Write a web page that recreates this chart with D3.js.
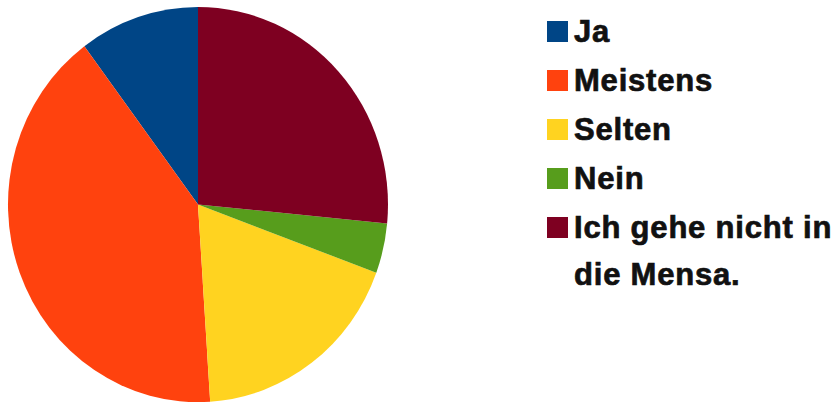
<!DOCTYPE html>
<html>
<head>
<meta charset="utf-8">
<script src="https://cdn.jsdelivr.net/npm/d3@7.9.0/dist/d3.min.js"></script>
<style>
  body { margin: 0; background: #fff; }
  svg { display: block; }
  .legend text { font-family: "Liberation Sans", Arial, sans-serif; font-weight: bold; font-size: 31px; letter-spacing: 0.8px; fill: #111; stroke: #111; stroke-width: 0.7px; }
</style>
</head>
<body>
<svg width="840" height="405"></svg>
<script>
const labels = ['Ja', 'Meistens', 'Selten', 'Nein', 'Ich gehe nicht in die Mensa.'];
const counts = [5, 20, 9, 2, 13];
const colours = ['#004586', '#ff420e', '#ffd320', '#579d1c', '#7e0021'];

const svg = d3.select('svg');

let pie = d3.pie().sort(null).startAngle(0).endAngle(-2 * Math.PI);
let arcGenerator = d3.arc().innerRadius(0).outerRadius(190);
let colour = d3.scaleOrdinal().domain(labels).range(colours);

// pie is a bit taller than wide in the picture
let g = svg.append('g').attr('transform', 'translate(198,204.5) scale(1,1.04)');
g.selectAll('path')
  .data(pie(counts))
  .join('path')
  .attr('d', arcGenerator)
  .attr('fill', (d, i) => colour(labels[i]));

// legend
let legend = svg.append('g').attr('class', 'legend');
let y = 42;
labels.forEach((label, i) => {
  legend.append('rect')
    .attr('x', 547).attr('y', y - 21)
    .attr('width', 21).attr('height', 21)
    .attr('fill', colour(label));
  let lines = i === 4 ? ['Ich gehe nicht in', 'die Mensa.'] : [label];
  lines.forEach((line, j) => {
    legend.append('text')
      .attr('x', 574).attr('y', y + j * 47)
      .text(line);
  });
  y += 49;
});
</script>
</body>
</html>
